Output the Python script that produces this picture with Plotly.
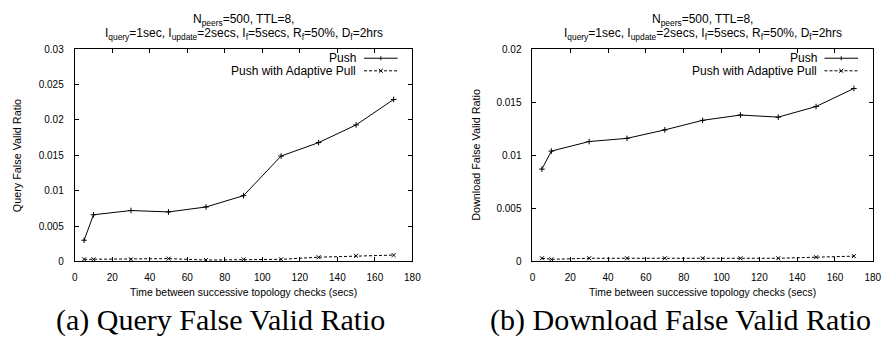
import plotly.graph_objects as go

# ---------------- data ----------------
x_vals = [5, 10, 30, 50, 70, 90, 110, 130, 150, 170]
query_push = [0.0030, 0.0066, 0.0072, 0.0070, 0.0077, 0.0093, 0.0149, 0.0168, 0.0193, 0.0229]
query_adaptive = [0.0003, 0.0003, 0.0003, 0.0004, 0.0002, 0.0003, 0.0003, 0.0006, 0.0008, 0.0009]
download_push = [0.0087, 0.0104, 0.0113, 0.0116, 0.0124, 0.0133, 0.0138, 0.0136, 0.0146, 0.0163]
download_adaptive = [0.0003, 0.0002, 0.0003, 0.0003, 0.0003, 0.0003, 0.0003, 0.0003, 0.0004, 0.0005]

x_ticks = [0, 20, 40, 60, 80, 100, 120, 140, 160, 180]
x_tick_labels = ["0", "20", "40", "60", "80", "100", "120", "140", "160", "180"]
query_y_ticks = [0, 0.005, 0.01, 0.015, 0.02, 0.025, 0.03]
query_y_labels = ["0", "0.005", "0.01", "0.015", "0.02", "0.025", "0.03"]
download_y_ticks = [0, 0.005, 0.01, 0.015, 0.02]
download_y_labels = ["0", "0.005", "0.01", "0.015", "0.02"]

series_names = ["Push", "Push with Adaptive Pull"]
y_titles = ["Query False Valid Ratio", "Download False Valid Ratio"]
x_title = "Time between successive topology checks (secs)"
captions = ["(a) Query False Valid Ratio", "(b) Download False Valid Ratio"]
title_lines = ["N<sub>peers</sub>=500, TTL=8,",
               "I<sub>query</sub>=1sec, I<sub>update</sub>=2secs, I<sub>f</sub>=5secs, "
               "R<sub>f</sub>=50%, D<sub>f</sub>=2hrs"]

# ---------------- layout geometry ----------------
W, H = 889, 341
SANS = "Liberation Sans, Arial, Helvetica, sans-serif"
SERIF = "Liberation Serif, Times New Roman, serif"


def px(v):
    return v / W


def py(v):
    return 1 - v / H


panels = [
    dict(left=72.7, right=415.0, push=query_push, adapt=query_adaptive,
         yt=query_y_ticks, yl=query_y_labels, ymax=0.03, ytitle=y_titles[0],
         cap=captions[0], capx=220, ytx=15),
    dict(left=536.7, right=881.7, push=download_push, adapt=download_adaptive,
         yt=download_y_ticks, yl=download_y_labels, ymax=0.02, ytitle=y_titles[1],
         cap=captions[1], capx=687, ytx=480),
]
TOP, BOT = 45.7, 265.0

fig = go.Figure()
annotations = []
shapes = []

for i, p in enumerate(panels):
    xa = "x" if i == 0 else "x2"
    ya = "y" if i == 0 else "y2"
    fig.add_trace(go.Scatter(
        x=x_vals, y=p["push"], mode="lines+markers", name=series_names[0],
        xaxis=xa, yaxis=ya, showlegend=False,
        line=dict(color="black", width=1),
        marker=dict(symbol="cross-thin", size=4, line=dict(color="black", width=1)),
    ))
    fig.add_trace(go.Scatter(
        x=x_vals, y=p["adapt"], mode="lines+markers", name=series_names[1],
        xaxis=xa, yaxis=ya, showlegend=False,
        line=dict(color="black", width=1, dash="3px,2px"),
        marker=dict(symbol="x-thin", size=4, line=dict(color="black", width=1)),
    ))

    axis_common = dict(showline=True, linecolor="black", linewidth=1, mirror="ticks",
                       ticks="inside", ticklen=4, tickcolor="black", tickwidth=1,
                       showgrid=False, zeroline=False,
                       tickfont=dict(family=SANS, size=10, color="black"))
    xkey = "xaxis" if i == 0 else "xaxis2"
    ykey = "yaxis" if i == 0 else "yaxis2"
    fig.update_layout(**{
        xkey: dict(axis_common, domain=[px(p["left"]), px(p["right"])],
                   range=[0, 180], tickvals=x_ticks, ticktext=x_tick_labels,
                   anchor=ya, ticklabelstandoff=7),
        ykey: dict(axis_common, domain=[py(BOT), py(TOP)],
                   range=[0, p["ymax"]], tickvals=p["yt"], ticktext=p["yl"],
                   anchor=xa, ticklabelstandoff=8),
    })

    cx = (p["left"] + p["right"]) / 2
    # plot title (two lines, placed separately for tight spacing)
    for line_text, ly in zip(title_lines, [15.5, 29.5]):
        annotations.append(dict(text=line_text, x=px(cx), y=py(ly), xref="paper", yref="paper",
                                xanchor="center", yanchor="middle", showarrow=False,
                                font=dict(family=SANS, size=12, color="black")))
    # axis titles
    annotations.append(dict(text=x_title, x=px(cx), y=py(297), xref="paper", yref="paper",
                            xanchor="center", yanchor="middle", showarrow=False,
                            font=dict(family=SANS, size=10.4, color="black")))
    annotations.append(dict(text=p["ytitle"], x=px(p["ytx"]), y=py((TOP + BOT) / 2),
                            xref="paper", yref="paper", textangle=-90,
                            xanchor="center", yanchor="middle", showarrow=False,
                            font=dict(family=SANS, size=10.8, color="black")))
    # caption
    annotations.append(dict(text=p["cap"], x=px(p["capx"]), y=py(326), xref="paper", yref="paper",
                            xanchor="center", yanchor="middle", showarrow=False,
                            font=dict(family=SERIF, size=30, color="black")))

    # gnuplot-style key: text right-aligned, sample to the right
    rows = [(55, series_names[0], "solid", "plus"), (68, series_names[1], "dot", "x")]
    for yrow, name, style, glyph in rows:
        tx = p["right"] - 55
        annotations.append(dict(text=name, x=px(tx), y=py(yrow), xref="paper", yref="paper",
                                xanchor="right", yanchor="middle", showarrow=False,
                                font=dict(family=SANS, size=12, color="black")))
        x0, x1 = p["right"] - 49, p["right"] - 15
        shapes.append(dict(type="line", xref="paper", yref="paper",
                           x0=px(x0), x1=px(x1), y0=py(yrow), y1=py(yrow),
                           line=dict(color="black", width=1,
                                     dash="solid" if style == "solid" else "3px,2px")))
        mx = (x0 + x1) / 2
        if glyph == "plus":
            shapes.append(dict(type="line", xref="paper", yref="paper",
                               x0=px(mx), x1=px(mx), y0=py(yrow - 2), y1=py(yrow + 2),
                               line=dict(color="black", width=1)))
        else:
            shapes.append(dict(type="line", xref="paper", yref="paper",
                               x0=px(mx - 2), x1=px(mx + 2), y0=py(yrow - 2), y1=py(yrow + 2),
                               line=dict(color="black", width=1)))
            shapes.append(dict(type="line", xref="paper", yref="paper",
                               x0=px(mx - 2), x1=px(mx + 2), y0=py(yrow + 2), y1=py(yrow - 2),
                               line=dict(color="black", width=1)))

fig.update_layout(
    width=W, height=H, margin=dict(l=0, r=0, t=0, b=0),
    paper_bgcolor="white", plot_bgcolor="white",
    annotations=annotations, shapes=shapes, showlegend=False,
)

fig.write_html("out.html", config={"displayModeBar": False},
               post_script="document.body.style.margin='0';document.body.style.overflow='hidden';")
